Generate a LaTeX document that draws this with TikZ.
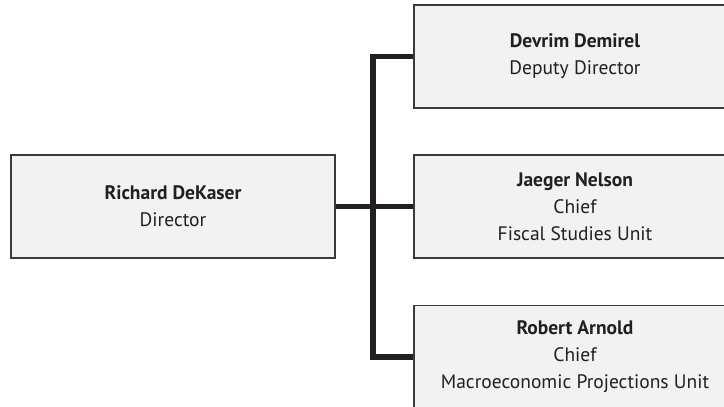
\documentclass[tikz,border=0pt]{standalone}
\usepackage{fontspec}
\setmainfont{PT Sans}
\definecolor{boxfill}{HTML}{F1F2F1}
\definecolor{boxline}{HTML}{3A3A3A}
\definecolor{ink}{HTML}{231F20}
\begin{document}
\begin{tikzpicture}[x=1pt,y=-1pt,
  orgbox/.style={draw=boxline, line width=1.1pt, fill=boxfill, rectangle,
    minimum width=322pt, minimum height=103pt, inner sep=0pt,
    align=center, text=ink, font=\fontsize{19.5}{27}\selectfont},
  link/.style={draw=ink, line width=5.5pt, line join=miter}]
\useasboundingbox (0,0) rectangle (724,407);
\clip (0,0) rectangle (724,407);
\node[orgbox, minimum width=324pt] (dir) at (173,206.5)
  {\textbf{Richard DeKaser}\\Director};
\node[orgbox] (dep) at (575,56.5)
  {\textbf{Devrim Demirel}\\Deputy Director};
\node[orgbox] (fis) at (575,206.5)
  {\textbf{Jaeger Nelson}\\Chief\\Fiscal Studies Unit};
\node[orgbox] (mac) at (575,357)
  {\textbf{Robert Arnold}\\Chief\\Macroeconomic Projections Unit};
% trunk joining the director to the three units
\coordinate (bus) at (373,0);
\draw[link] (dir.east) -- (fis.west);
\draw[link] (dep.west) -- (bus |- dep.west) -- (bus |- mac.west) -- (mac.west);
\end{tikzpicture}
\end{document}
